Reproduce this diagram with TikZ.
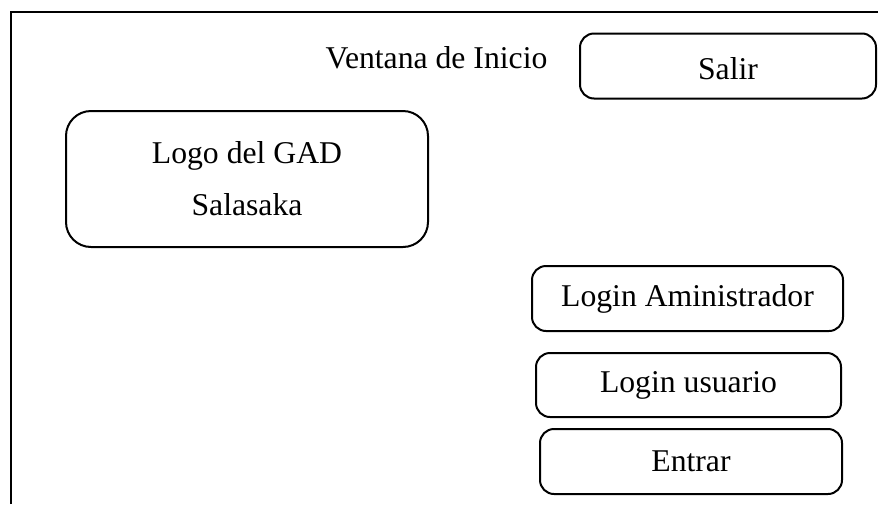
\documentclass[tikz,border=0pt]{standalone}
\usepackage{fontspec}
\setmainfont{Liberation Serif}
\begin{document}
\begin{tikzpicture}[x=1pt,y=-1pt,
  txt/.style={font=\fontsize{31.7}{52}\selectfont, inner sep=0pt},
  box/.style={draw, line width=2pt, rounded corners=14pt, inner sep=0pt,
    font=\fontsize{31.7}{52}\selectfont, align=center}]
\useasboundingbox (0,0) rectangle (878,504);
\coordinate (bl) at (11,504);
\coordinate (tl) at (11,12);
\coordinate (tr) at (878,12);
\draw[line width=2.8pt] (bl) -- (tl) -- (tr);
\node[txt] (title) at (436.5,58) {Ventana de Inicio};
\node[box, minimum width=296pt, minimum height=65pt, text depth=0pt, text height=27pt] (salir) at (728,66) {Salir};
\node[box, rounded corners=25pt, minimum width=362pt, minimum height=136pt] (logo) at (247,179) {Logo del GAD\\Salasaka};
\node[box, minimum width=311pt, minimum height=65pt] (admin) at (687.5,298.5) {Login Aministrador};
\node[box, minimum width=305pt, minimum height=64pt] (user) at (688.5,385) {Login usuario};
\node[box, minimum width=302pt, minimum height=65pt] (entrar) at (691,461.5) {Entrar};
\end{tikzpicture}
\end{document}
